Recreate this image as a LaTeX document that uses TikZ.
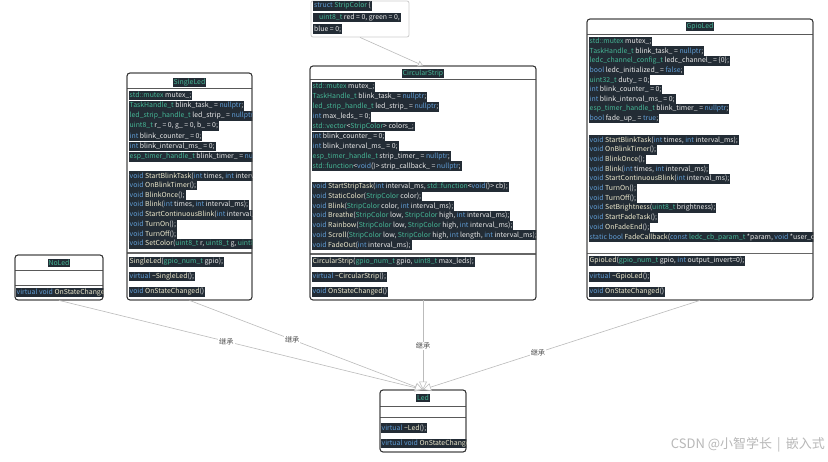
\documentclass[tikz,border=0pt]{standalone}
\usepackage{fontspec}
\setmainfont{Noto Sans CJK SC}
\usetikzlibrary{arrows.meta}
\definecolor{hl}{HTML}{232C35}
\definecolor{kwc}{HTML}{5F9BD3}
\definecolor{tyc}{HTML}{45B595}
\definecolor{fnc}{HTML}{ECE8CC}
\definecolor{idc}{HTML}{E8E8E8}
\definecolor{bord}{HTML}{333333}
\definecolor{conn}{HTML}{BBBBBB}
\newcommand\K[1]{\textcolor{kwc}{#1}}
\newcommand\T[1]{\textcolor{tyc}{#1}}
\newcommand\F[1]{\textcolor{fnc}{#1}}
\newcommand\rw[3]{\node[rowbar] (#1) at (\rx,#2) {#3};}
\begin{document}
\begin{tikzpicture}[x=1pt,y=-1pt,
 clsbox/.style={draw=bord, fill=white, line width=0.8pt, rounded corners=3pt, inner sep=0pt},
 rowbar/.style={anchor=west, fill=hl, text=idc, inner xsep=1pt, inner ysep=0pt, minimum height=9.9pt, font=\fontsize{6.9}{7}\selectfont},
 titlebar/.style={fill=hl, text=tyc, inner xsep=1pt, inner ysep=0.8pt, font=\fontsize{6.9}{7}\selectfont},
 thinsep/.style={draw=black!65, line width=0.5pt},
 thicksep/.style={draw=black!60, line width=1.3pt},
 inh/.style={draw=conn, line width=0.6pt, -{Triangle[open,fill=white,length=8pt,width=8pt]}},
 inhlabel/.style={fill=white, text=black!70, inner sep=1pt, font=\fontsize{7.2}{8}\selectfont}]
\useasboundingbox (0,0) rectangle (828,462);
\fill[white] (0,0) rectangle (828,462);

% ---------- StripColor ----------
\node[draw=black!20, fill=white, line width=0.8pt, rounded corners=2pt, minimum width=98pt, minimum height=36pt, inner sep=0pt] (strip) at (360,19) {};
\begin{scope}
\clip (strip.north west) rectangle (strip.south east);
\def\rx{313}
\rw{st1}{6}{\K{struct} \T{StripColor} \{}
\rw{st2}{17.5}{\hspace*{5pt}\T{uint8\_t} red = 0, green = 0,}
\rw{st3}{29}{blue = 0;}
\end{scope}

% ---------- SingleLed ----------
\node[clsbox, minimum width=125pt, minimum height=227pt] (single) at (189.5,186.5) {};
\begin{scope}
\clip[rounded corners=3pt] (single.north west) rectangle (single.south east);
\node[titlebar] (singlet) at (189.5,82.5) {SingleLed};
\def\rx{128.5}
\rw{sa1}{95.5}{\T{std::mutex} mutex\_;}
\rw{sa2}{105.7}{\T{TaskHandle\_t} blink\_task\_ = \K{nullptr};}
\rw{sa3}{115.9}{\T{led\_strip\_handle\_t} led\_strip\_ = \K{nullptr};}
\rw{sa4}{126.1}{\T{uint8\_t} r\_ = 0, g\_ = 0, b\_ = 0;}
\rw{sa5}{136.3}{\K{int} blink\_counter\_ = 0;}
\rw{sa6}{146.5}{\K{int} blink\_interval\_ms\_ = 0;}
\rw{sa7}{156.7}{\T{esp\_timer\_handle\_t} blink\_timer\_ = \K{nullptr};}
\rw{sm1}{176}{\K{void} \F{StartBlinkTask}(\K{int} times, \K{int} interval\_ms);}
\rw{sm2}{185.5}{\K{void} \F{OnBlinkTimer}();}
\rw{sm3}{195}{\K{void} \F{BlinkOnce}();}
\rw{sm4}{204.8}{\K{void} \F{Blink}(\K{int} times, \K{int} interval\_ms);}
\rw{sm5}{214.6}{\K{void} \F{StartContinuousBlink}(\K{int} interval\_ms);}
\rw{sm6}{224.4}{\K{void} \F{TurnOn}();}
\rw{sm7}{234.2}{\K{void} \F{TurnOff}();}
\rw{sm8}{244}{\K{void} \F{SetColor}(\T{uint8\_t} r, \T{uint8\_t} g, \T{uint8\_t} b);}
\rw{sc1}{262}{\F{SingleLed}(\T{gpio\_num\_t} gpio);}
\rw{sc2}{276.5}{\K{virtual} \F{\textasciitilde SingleLed}();}
\rw{sc3}{292}{\K{void} \F{OnStateChanged}()}
\draw[thinsep] (127,88.5) -- (252,88.5);
\draw[thicksep] (127,253) -- (252,253);
\end{scope}
\node[draw=bord, line width=0.8pt, rounded corners=3pt, minimum width=125pt, minimum height=227pt, inner sep=0pt] (singleb) at (189.5,186.5) {};

% ---------- CircularStrip ----------
\node[clsbox, minimum width=226pt, minimum height=234pt] (circ) at (423,183) {};
\begin{scope}
\clip[rounded corners=3pt] (circ.north west) rectangle (circ.south east);
\node[titlebar] (circt) at (423,73.3) {CircularStrip};
\def\rx{311.5}
\rw{ca1}{86.7}{\T{std::mutex} mutex\_;}
\rw{ca2}{96.7}{\T{TaskHandle\_t} blink\_task\_ = \K{nullptr};}
\rw{ca3}{106.6}{\T{led\_strip\_handle\_t} led\_strip\_ = \K{nullptr};}
\rw{ca4}{116.6}{\K{int} max\_leds\_ = 0;}
\rw{ca5}{126.5}{\T{std::vector}<\T{StripColor}> colors\_;}
\rw{ca6}{136.5}{\K{int} blink\_counter\_ = 0;}
\rw{ca7}{146.4}{\K{int} blink\_interval\_ms\_ = 0;}
\rw{ca8}{156.4}{\T{esp\_timer\_handle\_t} strip\_timer\_ = \K{nullptr};}
\rw{ca9}{166.3}{\T{std::function}<\K{void}()> strip\_callback\_ = \K{nullptr};}
\rw{cm1}{186.7}{\K{void} \F{StartStripTask}(\K{int} interval\_ms, \T{std::function}<\K{void}()> cb);}
\rw{cm2}{196.4}{\K{void} \F{StaticColor}(\T{StripColor} color);}
\rw{cm3}{206.1}{\K{void} \F{Blink}(\T{StripColor} color, \K{int} interval\_ms);}
\rw{cm4}{215.8}{\K{void} \F{Breathe}(\T{StripColor} low, \T{StripColor} high, \K{int} interval\_ms);}
\rw{cm5}{225.5}{\K{void} \F{Rainbow}(\T{StripColor} low, \T{StripColor} high, \K{int} interval\_ms);}
\rw{cm6}{235.3}{\K{void} \F{Scroll}(\T{StripColor} low, \T{StripColor} high, \K{int} length, \K{int} interval\_ms);}
\rw{cm7}{245}{\K{void} \F{FadeOut}(\K{int} interval\_ms);}
\rw{cc1}{261.7}{\F{CircularStrip}(\T{gpio\_num\_t} gpio, \T{uint8\_t} max\_leds);}
\rw{cc2}{276.7}{\K{virtual} \F{\textasciitilde CircularStrip}();}
\rw{cc3}{291.7}{\K{void} \F{OnStateChanged}()}
\draw[thinsep] (310,79.5) -- (536,79.5);
\draw[thicksep] (310,254) -- (536,254);
\end{scope}
\node[draw=bord, line width=0.8pt, rounded corners=3pt, minimum width=226pt, minimum height=234pt, inner sep=0pt] (circb) at (423,183) {};

% ---------- GpioLed ----------
\node[clsbox, minimum width=226pt, minimum height=281pt] (gpio) at (700,159.5) {};
\begin{scope}
\clip[rounded corners=3pt] (gpio.north west) rectangle (gpio.south east);
\node[titlebar] (gpiot) at (700,26.7) {GpioLed};
\def\rx{588.5}
\rw{ga1}{41.7}{\T{std::mutex} mutex\_;}
\rw{ga2}{51.3}{\T{TaskHandle\_t} blink\_task\_ = \K{nullptr};}
\rw{ga3}{60.9}{\T{ledc\_channel\_config\_t} ledc\_channel\_ = \{0\};}
\rw{ga4}{70.5}{\K{bool} ledc\_initialized\_ = \K{false};}
\rw{ga5}{80.1}{\T{uint32\_t} duty\_ = 0;}
\rw{ga6}{89.7}{\K{int} blink\_counter\_ = 0;}
\rw{ga7}{99.3}{\K{int} blink\_interval\_ms\_ = 0;}
\rw{ga8}{108.9}{\T{esp\_timer\_handle\_t} blink\_timer\_ = \K{nullptr};}
\rw{ga9}{118.5}{\K{bool} fade\_up\_ = \K{true};}
\rw{gm1}{140}{\K{void} \F{StartBlinkTask}(\K{int} times, \K{int} interval\_ms);}
\rw{gm2}{149.7}{\K{void} \F{OnBlinkTimer}();}
\rw{gm3}{159.4}{\K{void} \F{BlinkOnce}();}
\rw{gm4}{169.1}{\K{void} \F{Blink}(\K{int} times, \K{int} interval\_ms);}
\rw{gm5}{178.8}{\K{void} \F{StartContinuousBlink}(\K{int} interval\_ms);}
\rw{gm6}{188.5}{\K{void} \F{TurnOn}();}
\rw{gm7}{198.2}{\K{void} \F{TurnOff}();}
\rw{gm8}{207.9}{\K{void} \F{SetBrightness}(\T{uint8\_t} brightness);}
\rw{gm9}{217.6}{\K{void} \F{StartFadeTask}();}
\rw{gm10}{227.3}{\K{void} \F{OnFadeEnd}();}
\rw{gm11}{237.2}{\K{static} \K{bool} \F{FadeCallback}(\K{const} \T{ledc\_cb\_param\_t} *param, \K{void} *user\_ctx);}
\rw{gc1}{261}{\F{GpioLed}(\T{gpio\_num\_t} gpio, \K{int} output\_invert=0);}
\rw{gc2}{276.7}{\K{virtual} \F{\textasciitilde GpioLed}();}
\rw{gc3}{291.7}{\K{void} \F{OnStateChanged}()}
\draw[thinsep] (587,34.5) -- (813,34.5);
\draw[thicksep] (587,253.5) -- (813,253.5);
\end{scope}
\node[draw=bord, line width=0.8pt, rounded corners=3pt, minimum width=226pt, minimum height=281pt, inner sep=0pt] (gpiob) at (700,159.5) {};

% ---------- NoLed ----------
\node[clsbox, minimum width=88pt, minimum height=45pt] (noled) at (59,277.5) {};
\begin{scope}
\clip[rounded corners=3pt] (noled.north west) rectangle (noled.south east);
\node[titlebar] (noledt) at (59,263) {NoLed};
\def\rx{15.5}
\rw{na1}{292.5}{\K{virtual} \K{void} \F{OnStateChanged}();}
\draw[thinsep] (15,270.5) -- (103,270.5);
\draw[thinsep] (15,285) -- (103,285);
\end{scope}
\node[draw=bord, line width=0.8pt, rounded corners=3pt, minimum width=88pt, minimum height=45pt, inner sep=0pt] (noledb) at (59,277.5) {};

% ---------- Led ----------
\node[clsbox, minimum width=86pt, minimum height=62pt] (led) at (423,421) {};
\begin{scope}
\clip[rounded corners=3pt] (led.north west) rectangle (led.south east);
\node[titlebar] (ledt) at (423,398) {Led};
\def\rx{380.5}
\rw{la1}{428}{\K{virtual} \F{\textasciitilde Led}();}
\rw{la2}{443.5}{\K{virtual} \K{void} \F{OnStateChanged}();}
\draw[thinsep] (380,406.5) -- (466,406.5);
\draw[thinsep] (380,417.5) -- (466,417.5);
\end{scope}
\node[draw=bord, line width=0.8pt, rounded corners=3pt, minimum width=86pt, minimum height=62pt, inner sep=0pt] (ledb) at (423,421) {};

% ---------- connectors ----------
\draw[draw=conn, line width=0.6pt, -{Triangle[open,fill=white,length=5pt,width=6pt]}] (strip.south) -- (circ.north);
\draw[inh] (noled.south) -- (led.north) node[inhlabel, pos=0.46] (l1) {继承};
\draw[inh] (single.south) -- (led.north) node[inhlabel, pos=0.44] (l2) {继承};
\draw[inh] (circ.south) -- (led.north) node[inhlabel, pos=0.51] (l3) {继承};
\draw[inh] (gpio.south) -- (led.north) node[inhlabel, pos=0.585] (l4) {继承};

% ---------- watermark ----------
\node[anchor=east, text=black!28, inner sep=0pt, font=\fontsize{13}{14}\selectfont] (wm) at (825,445) {CSDN @小智学长 \,|\, 嵌入式};
\end{tikzpicture}
\end{document}
